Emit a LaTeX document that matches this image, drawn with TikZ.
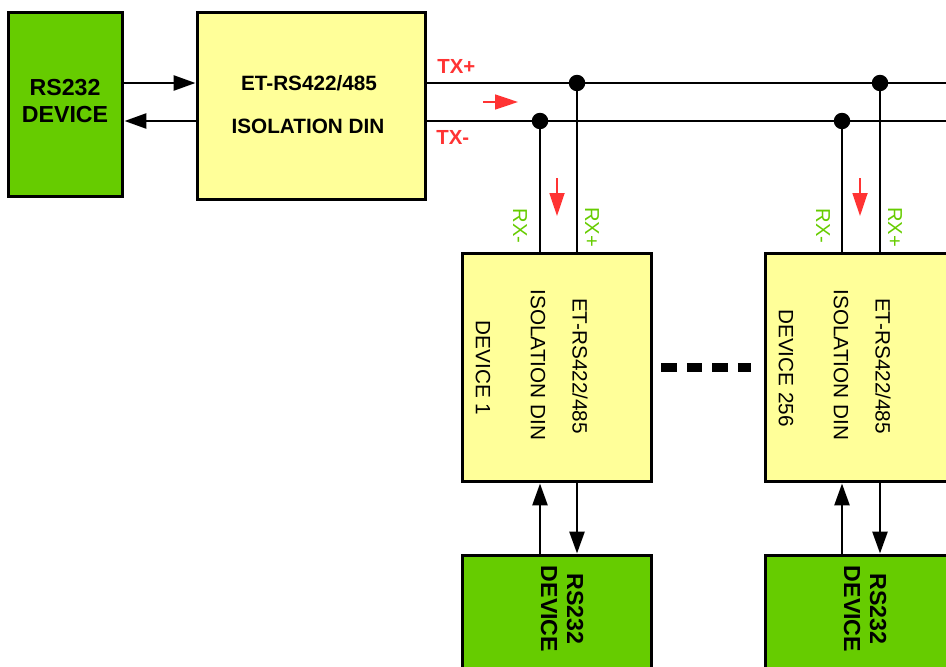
\documentclass[tikz,border=0pt]{standalone}
\usepackage{fontspec}
\setmainfont{Liberation Sans}
\usetikzlibrary{arrows.meta}
\definecolor{greenfig}{RGB}{102, 204, 0}
\definecolor{yellowfig}{RGB}{255, 255, 153}
\definecolor{redfig}{RGB}{255, 51, 51}
\tikzset{
    greenbox/.style={draw=black, line width=1.7pt, fill=greenfig, inner sep=0pt},
    yellowbox/.style={draw=black, line width=1.7pt, fill=yellowfig, inner sep=0pt},
    wire/.style={line width=1.5pt, color=black},
    sig/.style={line width=1.5pt, color=black, -{Triangle[length=0.44cm, width=0.3cm]}},
    redarrow/.style={line width=1pt, color=redfig, -{Triangle[length=0.46cm, width=0.3cm]}},
    joint/.style={circle, fill=black, inner sep=0pt, minimum size=0.33cm},
    bigtext/.style={font=\fontsize{13.2pt}{15.8pt}\selectfont\bfseries, align=center},
    boldtext/.style={font=\fontsize{11.8pt}{14pt}\selectfont\bfseries},
    plaintext/.style={font=\fontsize{11.8pt}{14pt}\selectfont, rotate=-90},
    txlabel/.style={font=\fontsize{11.6pt}{14pt}\selectfont\bfseries, text=redfig, inner sep=0pt},
    rxlabel/.style={font=\fontsize{11.5pt}{14pt}\selectfont, text=greenfig, rotate=-90, inner sep=0pt},
    dashline/.style={line width=5.1pt, dash pattern=on 0.31cm off 0.2cm}
}

\begin{document}
\begin{tikzpicture}[x=0.02cm, y=-0.02cm]
        \useasboundingbox (0,0) rectangle (946,666);
        \clip (0,0) rectangle (946,666);

        % boxes
        \node[greenbox, minimum width=2.3cm, minimum height=3.7cm] (rs232) at (65.5,104.5) {};
        \node[yellowbox, minimum width=4.58cm, minimum height=3.76cm] (iso) at (311.5,106) {};
        \node[yellowbox, minimum width=3.8cm, minimum height=4.58cm] (dev1) at (557,367.5) {};
        \node[yellowbox, minimum width=3.8cm, minimum height=4.58cm] (dev2) at (860,367.5) {};
        \node[greenbox, minimum width=3.8cm, minimum height=4.58cm] (rsb1) at (557,669.5) {};
        \node[greenbox, minimum width=3.8cm, minimum height=4.58cm] (rsb2) at (860,669.5) {};

        % texts
        \node[bigtext] (rs232txt) at (65,101) {RS232\\DEVICE};
        \node[boldtext, anchor=base] (isotxta) at (309,90) {ET-RS422/485};
        \node[boldtext, anchor=base] (isotxtb) at (308,133) {ISOLATION DIN};
        \node[plaintext] (dev1a) at (580,366) {ET-RS422/485};
        \node[plaintext] (dev1b) at (538,365) {ISOLATION DIN};
        \node[plaintext] (dev1c) at (483,368) {DEVICE 1};
        \node[plaintext] (dev2a) at (883,366) {ET-RS422/485};
        \node[plaintext] (dev2b) at (841,365) {ISOLATION DIN};
        \node[plaintext] (dev2c) at (786,368) {DEVICE 256};
        \node[bigtext, rotate=-90, font=\fontsize{13.2pt}{14.8pt}\selectfont\bfseries] (rsb1txt) at (562,609) {RS232\\DEVICE};
        \node[bigtext, rotate=-90, font=\fontsize{13.2pt}{14.8pt}\selectfont\bfseries] (rsb2txt) at (865,609) {RS232\\DEVICE};

        % bus
        \coordinate (txp) at (950,83);
        \coordinate (txm) at (950,121);
        \node[joint] (j1p) at (577,83) {};
        \node[joint] (j1m) at (540,121) {};
        \node[joint] (j2p) at (880,83) {};
        \node[joint] (j2m) at (842,121) {};
        \draw[wire] (iso.east |- txp) -- (txp);
        \draw[wire] (iso.east |- txm) -- (txm);
        \draw[wire] (j1p.center) -- (j1p |- dev1.north);
        \draw[wire] (j1m.center) -- (j1m |- dev1.north);
        \draw[wire] (j2p.center) -- (j2p |- dev2.north);
        \draw[wire] (j2m.center) -- (j2m |- dev2.north);

        \node[txlabel, anchor=base west] (txplbl) at (437,73) {TX+};
        \node[txlabel, anchor=base west] (txmlbl) at (436,144) {TX-};
        \node[rxlabel] (rx1m) at (520,226) {RX-};
        \node[rxlabel] (rx1p) at (592,227) {RX+};
        \node[rxlabel] (rx2m) at (823,226) {RX-};
        \node[rxlabel] (rx2p) at (895,227) {RX+};

        % direction arrows
        \coordinate (ra1) at (483,102);
        \coordinate (ra2) at (518,102);
        \coordinate (rb1) at (557,178);
        \coordinate (rb2) at (557,216);
        \coordinate (rc1) at (860,178);
        \coordinate (rc2) at (860,216);
        \draw[redarrow] (ra1) -- (ra2);
        \draw[redarrow] (rb1) -- (rb2);
        \draw[redarrow] (rc1) -- (rc2);

        % rs232 links
        \draw[sig] (rs232.east |- txp) -- (iso.west |- txp);
        \draw[sig] (iso.west |- txm) -- (rs232.east |- txm);
        \draw[sig] (j1m |- rsb1.north) -- (j1m |- dev1.south);
        \draw[sig] (j1p |- dev1.south) -- (j1p |- rsb1.north);
        \draw[sig] (j2m |- rsb2.north) -- (j2m |- dev2.south);
        \draw[sig] (j2p |- dev2.south) -- (j2p |- rsb2.north);

        \draw[dashline, shorten <=0.16cm, shorten >=0.26cm] (dev1.east) -- (dev2.west);

    \end{tikzpicture}
\end{document}
